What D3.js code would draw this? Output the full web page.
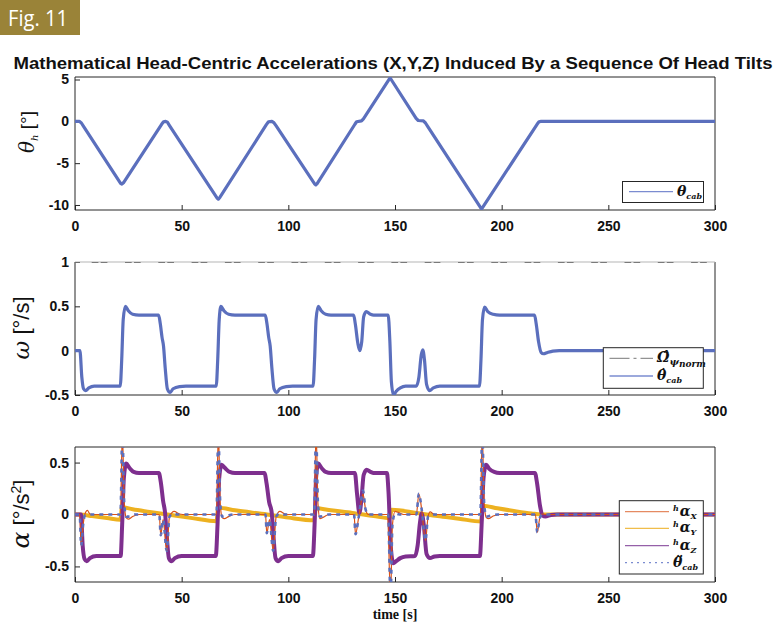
<!DOCTYPE html>
<html lang="en">
<head>
<meta charset="UTF-8">
<title>Fig. 11</title>
<script src="https://d3js.org/d3.v7.min.js"></script>
<style>
  body { margin: 0; background: #fff; }
  svg { display: block; }
  .tick text { font-family: "Liberation Sans", Arial, sans-serif; font-weight: bold; font-size: 14px; fill: #111; }
  .tick line { stroke: #262626; }
</style>
</head>
<body>
<svg width="776" height="625"></svg>
<script>
// ---- data: [time (s), value] ----
const thetaCab = [[0,0],[2,0],[3,-0.2],[4,-0.6],[21.3,-7.4],[22,-7.5],[22.7,-7.35],[40.6,-0.35],[41.5,-0.05],[42.5,0],
  [43.3,-0.1],[44.3,-0.5],[66.7,-9.2],[67.2,-9.3],[67.9,-9.1],[89.7,-0.4],[90.7,-0.05],[92.3,0],[93.2,-0.15],[94.3,-0.55],
  [112.4,-7.5],[112.9,-7.6],[113.5,-7.45],[131.2,-0.35],[132,-0.05],[134.3,0.05],[135.2,0.3],[147.3,5.05],[147.7,5.2],
  [148.2,5.0],[159.9,0.35],[160.9,0.1],[163.3,0.05],[164.3,-0.2],[165.3,-0.6],[190.2,-10.35],[190.6,-10.45],[191.1,-10.3],
  [216.6,-0.35],[217.5,-0.05],[218.5,0],[300,0]];

const omegaNorm = [[0,1],[300,1]];

const thetaDot = [[0,0],[2.3,0],[3.2,-0.3],[4,-0.43],[5,-0.45],[6.5,-0.42],[9,-0.4],[21.2,-0.4],[21.9,-0.1],[22.6,0.35],
  [23.6,0.5],[25,0.45],[27,0.41],[30,0.4],[39.2,0.4],[40,0.3],[40.8,0.15],[41.5,0.05],[42.3,-0.2],[43.3,-0.43],[44.6,-0.47],
  [46,-0.43],[49,-0.405],[52,-0.4],[66.2,-0.4],[66.9,-0.1],[67.6,0.35],[68.4,0.5],[69.8,0.45],[72,0.41],[75,0.4],
  [89.2,0.4],[90,0.3],[90.8,0.15],[91.5,0.05],[92.3,-0.2],[93.3,-0.43],[94.6,-0.47],[96,-0.43],[99,-0.405],[102,-0.4],
  [111.6,-0.4],[112.3,-0.1],[113,0.35],[114,0.5],[115.4,0.45],[117.5,0.41],[120,0.4],[130.6,0.4],[131.4,0.3],[132.6,0.08],
  [133.5,0],[134.4,0.1],[135.3,0.38],[136.5,0.44],[138.5,0.41],[140,0.4],[146.8,0.4],[147.6,0.1],[148.3,-0.35],[149.3,-0.5],
  [150.5,-0.46],[152.5,-0.42],[155,-0.4],[160,-0.4],[161.2,-0.3],[162.3,-0.05],[163,0.01],[163.8,-0.1],[164.8,-0.38],
  [166.2,-0.45],[168,-0.42],[171,-0.4],[189.6,-0.4],[190.3,-0.1],[191,0.35],[192,0.49],[193.5,0.44],[196,0.41],[199,0.4],
  [215.4,0.4],[216.2,0.3],[217.3,0.1],[218.5,-0.02],[219.6,-0.035],[221.5,-0.02],[224,-0.005],[227,0],[300,0]];

const alphaX = [[0,0],[2.2,0],[2.9,-0.3],[3.8,-0.1],[4.6,0],[5.8,0.04],[7,0.005],[9,0],[21.3,0],[22.2,0.8],[23.1,0.1],
  [24,-0.03],[25,-0.045],[27,-0.02],[30,0],[39.5,0],[40.2,-0.2],[41.3,-0.05],[43,-0.35],[44.3,-0.02],[46.5,0.03],[49,0.005],
  [52,0],[66.3,0],[67.2,0.8],[68.1,0.1],[69,-0.03],[70,-0.04],[72,-0.02],[75,0],[89.3,0],[89.9,-0.18],[91.2,-0.05],
  [92.9,-0.35],[94.3,-0.02],[96,0.03],[98.5,0.005],[101,0],[112.1,0],[113,0.8],[113.9,0.1],[114.8,-0.04],[116.5,-0.025],
  [119,0],[130.8,0],[131.5,-0.19],[132.8,-0.05],[134,0.1],[135,0.2],[136.2,0.05],[137.5,0],[146.5,0],[147.9,-0.8],
  [148.8,-0.1],[150,0.03],[151.5,0.02],[154,0],[160,0],[161.2,0.2],[162.5,0.05],[164.3,-0.25],[165.5,-0.02],[166.5,0.025],
  [168,0.005],[170,0],[190,0],[190.9,0.8],[191.8,0.1],[192.8,-0.03],[193.8,-0.04],[196,-0.015],[199,0],[215.8,0],
  [216.7,-0.17],[217.8,-0.04],[219,0.005],[221,0],[300,0]];

const alphaY = [[0,0],[2.5,0],[8,-0.015],[15,-0.033],[21.3,-0.05],[22,0.07],[27,0.05],[35,0.025],[45,-0.005],[55,-0.035],
  [66.3,-0.065],[67.2,0.065],[75,0.04],[90,0],[100,-0.03],[112,-0.055],[113,0.06],[120,0.04],[130,0.015],[140,-0.015],
  [147.6,-0.035],[148.4,0.045],[160,0.015],[170,-0.015],[180,-0.04],[190.3,-0.068],[191.2,0.085],[198,0.06],[207,0.03],
  [214,0.01],[218.5,0],[300,0]];

const alphaZ = [[0,0],[2.8,0],[3.6,-0.3],[4.5,-0.43],[5.5,-0.45],[7,-0.42],[10,-0.4],[21.4,-0.4],[22.1,-0.1],[22.9,0.35],
  [24,0.49],[25.5,0.45],[27.5,0.41],[30,0.4],[39.3,0.4],[40.3,0.3],[41.3,0.13],[42.2,0.02],[43,-0.2],[44,-0.42],[45.3,-0.45],
  [46.8,-0.42],[50,-0.4],[66,-0.4],[66.8,-0.1],[67.6,0.35],[68.7,0.48],[70.2,0.45],[72.5,0.41],[75,0.4],[88.8,0.4],
  [89.8,0.3],[91,0.12],[92.2,0.02],[93,-0.2],[94,-0.42],[95.3,-0.45],[96.8,-0.42],[100,-0.4],[111.5,-0.4],[112.3,-0.1],
  [113,0.35],[114,0.49],[115.5,0.45],[117.5,0.41],[120,0.4],[131.2,0.4],[132.2,0.2],[133.3,0.015],[134.3,0.15],[135.3,0.38],
  [136.7,0.43],[138.5,0.41],[140,0.4],[146.2,0.4],[147,0.2],[148,-0.3],[149.2,-0.47],[150.5,-0.45],[152.5,-0.42],
  [155,-0.405],[159.4,-0.4],[160.6,-0.3],[161.7,-0.08],[162.5,0.01],[163.5,-0.1],[164.8,-0.38],[166.4,-0.42],[168.5,-0.405],
  [171,-0.4],[189.8,-0.4],[190.6,-0.1],[191.5,0.35],[192.7,0.48],[194.2,0.44],[196.5,0.41],[199,0.4],[215.6,0.4],
  [216.6,0.3],[218,0.08],[219.2,-0.01],[220.5,-0.02],[223,-0.005],[226,0],[300,0]];

const thetaDDot = [[0,0],[2.2,0],[2.9,-0.3],[3.8,-0.1],[4.6,-0.01],[6,0],[21.3,0],[22.2,0.8],[23.1,0.1],[24,-0.02],
  [25.5,-0.02],[28,0],[39.5,0],[40.2,-0.2],[41.3,-0.05],[43,-0.35],[44.3,-0.02],[46,0.01],[48,0],[66.3,0],[67.2,0.8],
  [68.1,0.1],[69,-0.02],[71,-0.015],[74,0],[89.3,0],[89.9,-0.18],[91.2,-0.05],[92.9,-0.35],[94.3,-0.02],[96,0.01],[98,0],
  [112.1,0],[113,0.8],[113.9,0.1],[114.8,-0.02],[117,-0.01],[119,0],[130.8,0],[131.5,-0.19],[132.8,-0.05],[134,0.12],
  [135,0.23],[136.2,0.05],[137.5,0],[146.8,0],[147.9,-0.8],[148.8,-0.1],[150,0.01],[152,0],[160,0],[161.2,0.2],[162.5,0.05],
  [164.3,-0.25],[165.5,-0.02],[167,0],[190,0],[190.9,0.8],[191.8,0.1],[192.8,-0.02],[195,-0.01],[198,0],[215.8,0],
  [216.7,-0.17],[217.8,-0.04],[219,0],[300,0]];

const timeTicks = [0, 50, 100, 150, 200, 250, 300];
const thetaTicks = [-10, -5, 0, 5];
const omegaTicks = [-0.5, 0, 0.5, 1];
const alphaTicks = [-0.5, 0, 0.5];

const titleText = "Mathematical Head-Centric Accelerations (X,Y,Z) Induced By a Sequence Of Head Tilts";

// ---- layout ----
const svg = d3.select("svg");
const left = 75, right = 715;
const blue = "#5b6fbd", orange = "#d95319", yellow = "#edb120", purple = "#7e2f8e";
const serif = "'DejaVu Serif', serif", sans = "'Liberation Sans', Arial, sans-serif";

const x = d3.scaleLinear().domain([0, 300]).range([left, right]);

// badge
svg.append("rect").attr("x", 0).attr("y", 0).attr("width", 80).attr("height", 35).attr("fill", "#9a8338");
svg.append("text").attr("x", 8).attr("y", 26).attr("fill", "#fff")
  .attr("textLength", 60).attr("lengthAdjust", "spacingAndGlyphs")
  .style("font-family", "'Open Sans', sans-serif").style("font-size", "22px").text("Fig. 11");

// title
svg.append("text").attr("x", 393).attr("y", 69).attr("text-anchor", "middle")
  .attr("textLength", 759).attr("lengthAdjust", "spacingAndGlyphs")
  .style("font-family", sans).style("font-weight", "bold").style("font-size", "17px").style("fill", "#111")
  .text(titleText);

function panel(id, top, bottom, domain, ticks, lightTop) {
  const y = d3.scaleLinear().domain(domain).range([bottom, top]);
  const g = svg.append("g");
  svg.append("clipPath").attr("id", "clip" + id).append("rect")
    .attr("x", left).attr("y", top).attr("width", right - left).attr("height", bottom - top);

  g.append("g").attr("transform", `translate(0,${bottom})`)
    .call(d3.axisBottom(x).tickValues(timeTicks).tickSizeInner(-5).tickSizeOuter(0).tickPadding(11).tickFormat(d => String(d)))
    .call(a => a.select(".domain").remove());
  g.append("g").attr("transform", `translate(${left},0)`)
    .call(d3.axisLeft(y).tickValues(ticks).tickSizeInner(-5).tickSizeOuter(0).tickPadding(6).tickFormat(d => String(d)))
    .call(a => a.select(".domain").remove());

  // box
  g.append("line").attr("x1", left).attr("x2", right).attr("y1", bottom).attr("y2", bottom).attr("stroke", "#262626");
  g.append("line").attr("x1", left).attr("x2", left).attr("y1", top).attr("y2", bottom).attr("stroke", "#262626");
  g.append("line").attr("x1", right).attr("x2", right).attr("y1", top).attr("y2", bottom).attr("stroke", "#262626");
  g.append("line").attr("x1", left).attr("x2", right).attr("y1", top).attr("y2", top)
    .attr("stroke", lightTop ? "#b5b5b5" : "#262626");

  const plot = g.append("g").attr("clip-path", `url(#clip${id})`);
  return { y, g, plot };
}

function series(p, data, color, width, dash, curve) {
  const line = d3.line().x(d => x(d[0])).y(d => p.y(d[1])).curve(curve || d3.curveMonotoneX);
  const path = p.plot.append("path").datum(data).attr("d", line)
    .attr("fill", "none").attr("stroke", color).attr("stroke-width", width)
    .attr("stroke-linejoin", "round").attr("stroke-linecap", dash ? "butt" : "round");
  if (dash) path.attr("stroke-dasharray", dash);
  return path;
}

// y-label built from pieces: [text, family, size, dy, style, weight]
function yLabel(cx, cy, parts) {
  const t = svg.append("text").attr("transform", `translate(${cx},${cy}) rotate(-90)`)
    .attr("text-anchor", "middle").style("fill", "#111");
  parts.forEach(p => {
    t.append("tspan").text(p[0]).style("font-family", p[1]).style("font-size", p[2] + "px")
      .attr("dy", p[3]).style("font-style", p[4] || "normal").style("font-weight", p[5] || "normal");
  });
}

// legend text pieces: [text, size, dy, dx]
function legendText(px, py, parts) {
  const t = svg.append("text").attr("x", px).attr("y", py).style("fill", "#111")
    .style("font-family", serif).style("font-weight", "bold").style("font-style", "italic");
  parts.forEach(p => {
    const s = t.append("tspan").text(p[0]).style("font-size", p[1] + "px").attr("dy", p[2]);
    if (p[3]) s.attr("dx", p[3]);
  });
}

function legendBox(x0, y0, w, h) {
  svg.append("rect").attr("x", x0).attr("y", y0).attr("width", w).attr("height", h)
    .attr("fill", "#fff").attr("stroke", "#262626").attr("stroke-width", 1);
}
function legendLine(x1, x2, yy, color, width, dash) {
  const l = svg.append("line").attr("x1", x1).attr("x2", x2).attr("y1", yy).attr("y2", yy)
    .attr("stroke", color).attr("stroke-width", width);
  if (dash) l.attr("stroke-dasharray", dash);
}

// ---- panel 1: theta ----
const p1 = panel(1, 77, 210, [-10.6, 5.3], thetaTicks, false);
series(p1, thetaCab, blue, 3.2, null, d3.curveLinear);
yLabel(34, 132, [["θ", serif, 20, 0, "italic"], ["h", serif, 10, 4, "italic"], [" [°]", sans, 19, -4]]);
legendBox(622.5, 181.5, 81, 21);
legendLine(629, 673, 191.7, "#7b8cd0", 1.3);
legendText(677, 196, [["θ", 14, 0], ["cab", 8, 3]]);

// ---- panel 2: omega ----
const p2 = panel(2, 262, 395, [-0.5, 1], omegaTicks, true);
series(p2, omegaNorm, "#1a1a1a", 1.2, "6.7,2.3,6.7,17.6", d3.curveLinear).attr("stroke-dashoffset", 16.6);
series(p2, thetaDot, blue, 3.2);
yLabel(29, 328, [["ω", serif, 23, 0, "italic"], [" [°/s]", sans, 22, 0]]);
legendBox(603.3, 347.7, 100, 40.6);
legendLine(609.5, 653, 358.3, "#777", 1, "20,4,3,4");
legendLine(609.5, 653, 376, "#7b8cd0", 1.3);
legendText(657, 362, [["Ω̂", 14, 0], ["ψ", 10, 3], ["norm", 9, 1.5]]);
legendText(657, 380, [["θ̇", 14, 0], ["cab", 8, 3]]);

// ---- panel 3: alpha ----
const p3 = panel(3, 447, 582, [-0.65, 0.65], alphaTicks, false);
series(p3, alphaY, yellow, 4);
series(p3, alphaZ, purple, 4);
series(p3, alphaX, orange, 1.2);
series(p3, thetaDDot, blue, 2.6, "4,5");
yLabel(29, 514, [["α", serif, 25, 0, "italic"], [" [°/s", sans, 22, 0], ["2", sans, 14, -8], ["]", sans, 22, 8]]);
svg.append("text").attr("x", 395).attr("y", 619).attr("text-anchor", "middle")
  .style("font-family", "'Liberation Serif', serif").style("font-weight", "bold").style("font-size", "14px")
  .style("fill", "#111").text("time [s]");
legendBox(619.3, 500.7, 84, 73.3);
const legY = [511.7, 528.3, 545.7, 562.7];
legendLine(625, 669, legY[0], "#e58a62", 1.3);
legendLine(625, 669, legY[1], "#f0bd4a", 1.3);
legendLine(625, 669, legY[2], "#9560a8", 1.3);
legendLine(625, 669, legY[3], "#7b8cd0", 1.3, "2,4");
[["X", 0], ["Y", 1], ["Z", 2]].forEach(([c, i]) => {
  legendText(673, legY[i] + 4, [["h", 8, -5], ["α", 14, 5, 1], [c, 8, 3]]);
});
legendText(673, legY[3] + 4, [["θ̈", 14, 0], ["cab", 8, 3]]);
</script>
</body>
</html>
